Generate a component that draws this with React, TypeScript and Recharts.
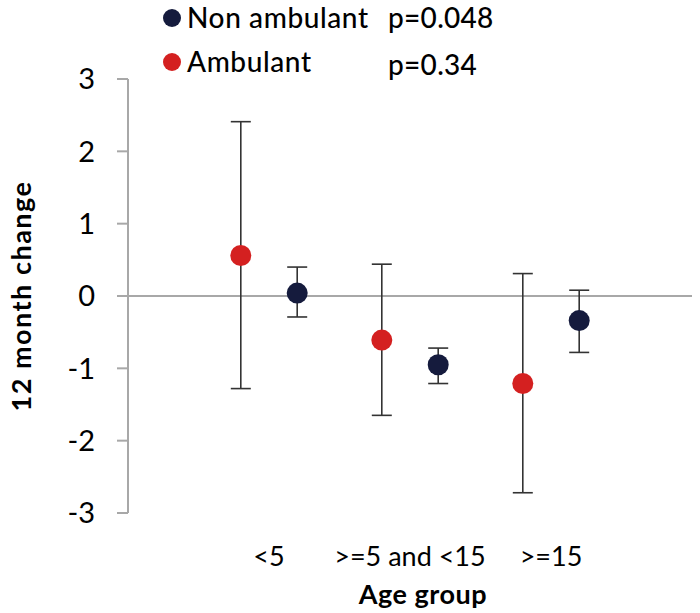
import React from 'react';
import {
  ScatterChart,
  Scatter,
  XAxis,
  YAxis,
  ErrorBar,
  ReferenceLine,
  Label,
} from 'recharts';

const categories = ['<5', '>=5 and <15', '>=15'];
const seriesNames = ['Non ambulant', 'Ambulant'];
const pValues = ['p=0.048', 'p=0.34'];

const ambulantMean = [0.56, -0.61, -1.21];
const ambulantLow = [-1.28, -1.65, -2.72];
const ambulantHigh = [2.41, 0.44, 0.31];

const nonAmbulantMean = [0.04, -0.95, -0.34];
const nonAmbulantLow = [-0.29, -1.21, -0.78];
const nonAmbulantHigh = [0.4, -0.72, 0.08];

const yTicks = [-3, -2, -1, 0, 1, 2, 3];

const RED = '#d42020';
const NAVY = '#151b3d';
const FONT = 'Lato, "Open Sans", sans-serif';

const build = (mean: number[], low: number[], high: number[], shift: number) =>
  mean.map((m, i) => ({
    x: i + 1 + shift,
    y: m,
    err: [m - low[i], high[i] - m],
  }));

const ambulantData = build(ambulantMean, ambulantLow, ambulantHigh, -0.2);
const nonAmbulantData = build(nonAmbulantMean, nonAmbulantLow, nonAmbulantHigh, 0.2);

const dot = (color: string) => (props: any) => (
  <circle cx={props.cx} cy={props.cy} r={10.5} fill={color} />
);

const LegendBox = () => {
  const colors = [NAVY, RED];
  const tops = [18, 62];
  return (
    <div style={{ position: 'absolute', left: 0, top: 0, width: 700, height: 90, fontFamily: FONT, fontSize: 28, color: '#000', fontWeight: 500 }}>
      {seriesNames.map((name, i) => (
        <React.Fragment key={name}>
          <div style={{ position: 'absolute', left: 163, top: tops[i] - 9, width: 18, height: 18, borderRadius: 9, background: colors[i] }} />
          <div style={{ position: 'absolute', left: 187, top: tops[i] - 17, lineHeight: '32px', whiteSpace: 'nowrap', letterSpacing: 0.6 }}>{name}</div>
          <div style={{ position: 'absolute', left: 388, top: tops[i] - 17 + (i === 1 ? 3 : 0), lineHeight: '32px', whiteSpace: 'nowrap', letterSpacing: 0.3 }}>{pValues[i]}</div>
        </React.Fragment>
      ))}
    </div>
  );
};

export default function App() {
  return (
    <div style={{ position: 'absolute', left: 0, top: 0, width: 700, height: 613, background: '#fff' }}>
      <ScatterChart width={700} height={613} margin={{ top: 79, right: 8, bottom: 0, left: 0 }}>
        <XAxis
          type="number"
          dataKey="x"
          domain={[0, 4]}
          ticks={[1, 2, 3]}
          tickFormatter={(v: number) => categories[v - 1] ?? ''}
          axisLine={false}
          tickLine={false}
          tickSize={0}
          tickMargin={34}
          height={100}
          tick={{ fontSize: 27, fill: '#000', fontFamily: FONT }}
          allowDataOverflow
        >
          <Label
            value="Age group"
            position="insideBottom"
            offset={9}
            dx={13}
            style={{ fontSize: 27, fontWeight: 700, fill: '#000', fontFamily: FONT, letterSpacing: 0.5 }}
          />
        </XAxis>
        <YAxis
          type="number"
          dataKey="y"
          domain={[-3, 3]}
          ticks={yTicks}
          width={128}
          tickSize={11}
          tickMargin={22}
          axisLine={{ stroke: '#a8a8a8', strokeWidth: 2 }}
          tickLine={{ stroke: '#a8a8a8', strokeWidth: 2 }}
          tick={{ fontSize: 29, fill: '#000', fontFamily: FONT }}
          allowDataOverflow
        >
          <Label
            value="12 month change"
            angle={-90}
            position="insideLeft"
            offset={21}
            style={{ fontSize: 27, fontWeight: 700, fill: '#000', fontFamily: FONT, textAnchor: 'middle', letterSpacing: 1.5 }}
          />
        </YAxis>
        <ReferenceLine y={0} stroke="#a8a8a8" strokeWidth={2} />
        <Scatter data={ambulantData} fill={RED} shape={dot(RED)} isAnimationActive={false}>
          <ErrorBar dataKey="err" direction="y" width={10} stroke="#333" strokeWidth={1.6} />
        </Scatter>
        <Scatter data={nonAmbulantData} fill={NAVY} shape={dot(NAVY)} isAnimationActive={false}>
          <ErrorBar dataKey="err" direction="y" width={10} stroke="#333" strokeWidth={1.6} />
        </Scatter>
      </ScatterChart>
      <LegendBox />
    </div>
  );
}
